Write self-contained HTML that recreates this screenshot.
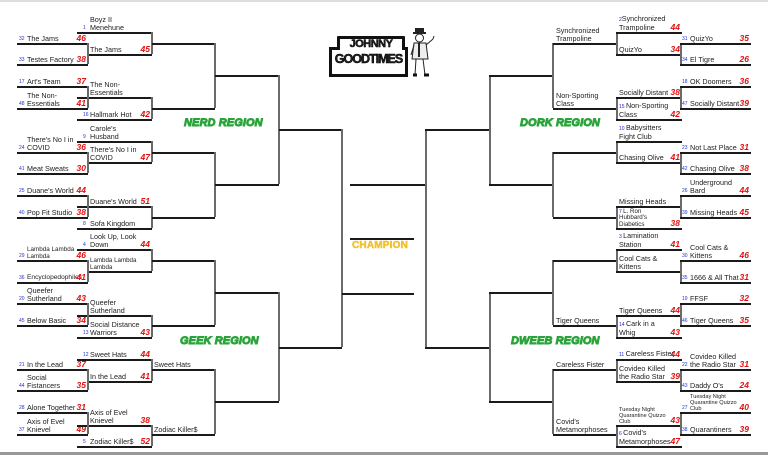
<!DOCTYPE html>
<html><head><meta charset="utf-8"><style>
*{margin:0;padding:0;box-sizing:content-box}
body{width:768px;height:455px;position:relative;overflow:hidden;background:#fff;font-family:"Liberation Sans",Arial,sans-serif;color:#222}
.h{position:absolute;height:0;border-top:2px solid #1a1a1a}
.v{position:absolute;width:0;border-left:2px solid #6a6a6a}
.n{position:absolute;bottom:2px;left:10px;white-space:nowrap;font-size:7.2px;line-height:8px}
.d{position:absolute;bottom:3px;left:2px;font-size:5px;color:#2233cc;line-height:5px}
.c{position:absolute;bottom:2px;right:2px;font-size:8.5px;line-height:9px;color:#e01010;font-weight:bold;font-style:italic}
.k .n{left:13px}.k .d{left:6px}
.r .n{left:3px}
.sm{font-size:5.6px!important;line-height:6px!important}
.rg{position:absolute;font-weight:bold;font-style:italic;font-size:11px;color:#2aa43a;-webkit-text-stroke:0.9px #2aa43a;letter-spacing:0.1px;white-space:nowrap}
.bd{position:absolute;left:0;width:768px;height:2px}
</style></head><body>
<div class="bd" style="top:0;background:#ddd"></div>
<div class="bd" style="top:452px;height:3px;background:#999"></div>

<!-- logo -->
<div style="position:absolute;left:337px;top:36px;width:68px;height:14px;background:#111;border-radius:1px"></div>
<div style="position:absolute;left:329px;top:47px;width:79px;height:30px;background:#111"></div>
<div style="position:absolute;left:332px;top:50px;width:73px;height:24px;background:#fff"></div>
<div style="position:absolute;left:340px;top:39px;width:62px;height:12px;background:#fff"></div>
<div style="position:absolute;left:340px;top:38px;width:62px;text-align:center;font-weight:bold;font-size:11px;letter-spacing:-0.5px;-webkit-text-stroke:0.5px #000">JOHNNY</div>
<div style="position:absolute;left:332px;top:52px;width:73px;text-align:center;font-weight:bold;font-size:12.5px;letter-spacing:-1px;-webkit-text-stroke:0.5px #000">GOODTIMES</div>
<svg style="position:absolute;left:406px;top:27px" width="36" height="53" viewBox="0 0 36 53">
<rect x="9" y="1" width="9" height="5" fill="#222"/><rect x="7" y="5" width="13" height="2" fill="#222"/>
<circle cx="13.5" cy="11" r="4" fill="none" stroke="#222"/>
<path d="M8 16h12l2 16h-16z" fill="#eee" stroke="#222"/><path d="M13 16v14" stroke="#222" stroke-width="2"/>
<path d="M20 18l7-6M27 12l1-3" stroke="#222"/><path d="M8 18l-3 10" stroke="#222"/>
<path d="M10 32l-1 16M17 32l2 16" stroke="#222"/><path d="M7 48h4M18 48h5" stroke="#111" stroke-width="3"/>
</svg>

<!-- LEFT col1 -->
<div class="h" style="left:17px;top:43px;width:71px"><span class="d">32</span><span class="n">The Jams</span><span class="c">46</span></div>
<div class="h" style="left:17px;top:64px;width:71px"><span class="d">33</span><span class="n">Testes Factory</span><span class="c">38</span></div>
<div class="h" style="left:17px;top:86px;width:71px"><span class="d">17</span><span class="n">Art's Team</span><span class="c">37</span></div>
<div class="h" style="left:17px;top:108px;width:71px"><span class="d">48</span><span class="n">The Non-<br>Essentials</span><span class="c">41</span></div>
<div class="h" style="left:17px;top:152px;width:71px"><span class="d">24</span><span class="n">There's No I in<br>COVID</span><span class="c">36</span></div>
<div class="h" style="left:17px;top:173px;width:71px"><span class="d">41</span><span class="n">Meat Sweats</span><span class="c">30</span></div>
<div class="h" style="left:17px;top:195px;width:71px"><span class="d">25</span><span class="n">Duane's World</span><span class="c">44</span></div>
<div class="h" style="left:17px;top:217px;width:71px"><span class="d">40</span><span class="n">Pop Fit Studio</span><span class="c">38</span></div>
<div class="h" style="left:17px;top:260px;width:71px"><span class="d">29</span><span class="n" style="font-size:6.3px;line-height:7px">Lambda Lambda<br>Lambda</span><span class="c">46</span></div>
<div class="h" style="left:17px;top:282px;width:71px"><span class="d">36</span><span class="n" style="font-size:6.6px">Encyclopedophiles</span><span class="c">41</span></div>
<div class="h" style="left:17px;top:303px;width:71px"><span class="d">20</span><span class="n">Queefer<br>Sutherland</span><span class="c">43</span></div>
<div class="h" style="left:17px;top:325px;width:71px"><span class="d">45</span><span class="n">Below Basic</span><span class="c">34</span></div>
<div class="h" style="left:17px;top:369px;width:71px"><span class="d">21</span><span class="n">In the Lead</span><span class="c">37</span></div>
<div class="h" style="left:17px;top:390px;width:71px"><span class="d">44</span><span class="n">Social<br>Fistancers</span><span class="c">35</span></div>
<div class="h" style="left:17px;top:412px;width:71px"><span class="d">28</span><span class="n">Alone Together</span><span class="c">31</span></div>
<div class="h" style="left:17px;top:434px;width:71px"><span class="d">37</span><span class="n">Axis of Evel<br>Knievel</span><span class="c">49</span></div>

<!-- LEFT col2 -->
<div class="h k" style="left:77px;top:32px;width:75px"><span class="d">1</span><span class="n">Boyz II<br>Menehune</span></div>
<div class="h k" style="left:88px;top:54px;width:64px"><span class="n" style="left:2px">The Jams</span><span class="c">45</span></div>
<div class="h k" style="left:77px;top:97px;width:75px"><span class="n">The Non-<br>Essentials</span></div>
<div class="h k" style="left:77px;top:119px;width:75px"><span class="d">16</span><span class="n">Hallmark Hot</span><span class="c">42</span></div>
<div class="h k" style="left:77px;top:141px;width:75px"><span class="d">9</span><span class="n">Carole's<br>Husband</span></div>
<div class="h k" style="left:88px;top:162px;width:64px"><span class="n" style="left:2px">There's No I in<br>COVID</span><span class="c">47</span></div>
<div class="h k" style="left:77px;top:206px;width:75px"><span class="n">Duane's World</span><span class="c">51</span></div>
<div class="h k" style="left:77px;top:228px;width:75px"><span class="d">8</span><span class="n">Sofa Kingdom</span></div>
<div class="h k" style="left:77px;top:249px;width:75px"><span class="d">4</span><span class="n">Look Up, Look<br>Down</span><span class="c">44</span></div>
<div class="h k" style="left:88px;top:271px;width:64px"><span class="n" style="left:2px;font-size:6.2px;line-height:7px">Lambda Lambda<br>Lambda</span></div>
<div class="h k" style="left:77px;top:315px;width:75px"><span class="n">Queefer<br>Sutherland</span></div>
<div class="h k" style="left:77px;top:337px;width:75px"><span class="d">13</span><span class="n">Social Distance<br>Warriors</span><span class="c">43</span></div>
<div class="h k" style="left:77px;top:359px;width:75px"><span class="d">12</span><span class="n">Sweet Hats</span><span class="c">44</span></div>
<div class="h k" style="left:88px;top:381px;width:64px"><span class="n" style="left:2px">In the Lead</span><span class="c">41</span></div>
<div class="h k" style="left:77px;top:425px;width:75px"><span class="n">Axis of Evel<br>Knievel</span><span class="c">38</span></div>
<div class="h k" style="left:77px;top:446px;width:75px"><span class="d">5</span><span class="n">Zodiac Killer$</span><span class="c">52</span></div>

<!-- LEFT verticals col1/col2 -->
<div class="v" style="left:87px;top:43px;height:21px"></div>
<div class="v" style="left:87px;top:86px;height:22px"></div>
<div class="v" style="left:87px;top:152px;height:21px"></div>
<div class="v" style="left:87px;top:195px;height:22px"></div>
<div class="v" style="left:87px;top:260px;height:22px"></div>
<div class="v" style="left:87px;top:303px;height:22px"></div>
<div class="v" style="left:87px;top:369px;height:21px"></div>
<div class="v" style="left:87px;top:412px;height:22px"></div>
<div class="v" style="left:151px;top:32px;height:22px"></div>
<div class="v" style="left:151px;top:97px;height:22px"></div>
<div class="v" style="left:151px;top:141px;height:21px"></div>
<div class="v" style="left:151px;top:206px;height:22px"></div>
<div class="v" style="left:151px;top:249px;height:22px"></div>
<div class="v" style="left:151px;top:315px;height:22px"></div>
<div class="v" style="left:151px;top:359px;height:22px"></div>
<div class="v" style="left:151px;top:425px;height:21px"></div>

<!-- LEFT col3 -->
<div class="h" style="left:152px;top:43px;width:63px"></div>
<div class="h" style="left:152px;top:108px;width:63px"></div>
<div class="h" style="left:152px;top:152px;width:63px"></div>
<div class="h" style="left:152px;top:217px;width:63px"></div>
<div class="h" style="left:152px;top:260px;width:63px"></div>
<div class="h" style="left:152px;top:325px;width:63px"></div>
<div class="h" style="left:152px;top:369px;width:63px"><span class="n" style="left:2px">Sweet Hats</span></div>
<div class="h" style="left:152px;top:434px;width:63px"><span class="n" style="left:2px">Zodiac Killer$</span></div>
<div class="v" style="left:214px;top:43px;height:65px"></div>
<div class="v" style="left:214px;top:152px;height:65px"></div>
<div class="v" style="left:214px;top:260px;height:65px"></div>
<div class="v" style="left:214px;top:369px;height:65px"></div>
<!-- LEFT col4 -->
<div class="h" style="left:215px;top:75px;width:64px"></div>
<div class="h" style="left:215px;top:184px;width:64px"></div>
<div class="h" style="left:215px;top:292px;width:64px"></div>
<div class="h" style="left:215px;top:401px;width:64px"></div>
<div class="v" style="left:278px;top:75px;height:109px"></div>
<div class="v" style="left:278px;top:292px;height:109px"></div>
<div class="h" style="left:279px;top:129px;width:63px"></div>
<div class="h" style="left:279px;top:347px;width:63px"></div>
<div class="v" style="left:341px;top:129px;height:218px"></div>
<div class="h" style="left:342px;top:293px;width:72px"></div>

<!-- CENTER -->
<div class="h" style="left:350px;top:184px;width:76px"></div>
<div class="h" style="left:350px;top:238px;width:64px"></div>
<div style="position:absolute;left:352px;top:240px;font-weight:bold;font-size:10px;color:#f2c12e;-webkit-text-stroke:0.5px #f2c12e;letter-spacing:0.2px">CHAMPION</div>

<!-- RIGHT col4 -->
<div class="v" style="left:425px;top:129px;height:218px"></div>
<div class="h" style="left:425px;top:129px;width:64px"></div>
<div class="h" style="left:425px;top:347px;width:64px"></div>
<div class="v" style="left:489px;top:75px;height:109px"></div>
<div class="v" style="left:489px;top:292px;height:109px"></div>
<div class="h" style="left:489px;top:75px;width:64px"></div>
<div class="h" style="left:489px;top:184px;width:64px"></div>
<div class="h" style="left:489px;top:292px;width:64px"></div>
<div class="h" style="left:489px;top:401px;width:64px"></div>

<!-- RIGHT col3 -->
<div class="v" style="left:552px;top:43px;height:65px"></div>
<div class="v" style="left:552px;top:152px;height:65px"></div>
<div class="v" style="left:552px;top:260px;height:65px"></div>
<div class="v" style="left:552px;top:369px;height:65px"></div>
<div class="h r" style="left:553px;top:43px;width:63px"><span class="n">Synchronized<br>Trampoline</span></div>
<div class="h r" style="left:553px;top:108px;width:63px"><span class="n">Non-Sporting<br>Class</span></div>
<div class="h" style="left:553px;top:152px;width:63px"></div>
<div class="h" style="left:553px;top:217px;width:63px"></div>
<div class="h" style="left:553px;top:260px;width:63px"></div>
<div class="h r" style="left:553px;top:325px;width:63px"><span class="n">Tiger Queens</span></div>
<div class="h r" style="left:553px;top:369px;width:63px"><span class="n">Careless Fister</span></div>
<div class="h r" style="left:553px;top:434px;width:63px"><span class="n">Covid's<br>Metamorphoses</span></div>

<!-- RIGHT col2 -->
<div class="v" style="left:616px;top:32px;height:22px"></div>
<div class="v" style="left:616px;top:97px;height:22px"></div>
<div class="v" style="left:616px;top:141px;height:21px"></div>
<div class="v" style="left:616px;top:206px;height:22px"></div>
<div class="v" style="left:616px;top:249px;height:22px"></div>
<div class="v" style="left:616px;top:315px;height:22px"></div>
<div class="v" style="left:616px;top:359px;height:22px"></div>
<div class="v" style="left:616px;top:425px;height:21px"></div>
<div class="h r" style="left:616px;top:32px;width:66px"><span class="n"><span style="font-size:5px;color:#22c">2</span>Synchronized<br>Trampoline</span><span class="c">44</span></div>
<div class="h r" style="left:616px;top:54px;width:66px"><span class="n">QuizYo</span><span class="c">34</span></div>
<div class="h r" style="left:616px;top:97px;width:66px"><span class="n">Socially Distant</span><span class="c">38</span></div>
<div class="h r" style="left:616px;top:119px;width:66px"><span class="n"><span style="font-size:5px;color:#22c">15 </span>Non-Sporting<br>Class</span><span class="c">42</span></div>
<div class="h r" style="left:616px;top:141px;width:66px"><span class="n"><span style="font-size:5px;color:#22c">10 </span>Babysitters<br>Fight Club</span></div>
<div class="h r" style="left:616px;top:162px;width:66px"><span class="n">Chasing Olive</span><span class="c">41</span></div>
<div class="h r" style="left:616px;top:206px;width:66px"><span class="n">Missing Heads</span></div>
<div class="h r" style="left:616px;top:228px;width:66px"><span class="n" style="line-height:6.5px;font-size:6.2px"><span style="font-size:5px;color:#22c">7 </span>L. Ron<br>Hubbard's<br>Diabetics</span><span class="c">38</span></div>
<div class="h r" style="left:616px;top:249px;width:66px"><span class="n"><span style="font-size:5px;color:#22c">3 </span>Lamination<br>Station</span><span class="c">41</span></div>
<div class="h r" style="left:616px;top:271px;width:66px"><span class="n">Cool Cats &amp;<br>Kittens</span></div>
<div class="h r" style="left:616px;top:315px;width:66px"><span class="n">Tiger Queens</span><span class="c">44</span></div>
<div class="h r" style="left:616px;top:337px;width:66px"><span class="n"><span style="font-size:5px;color:#22c">14 </span>Cark in a<br>Whig</span><span class="c">43</span></div>
<div class="h r" style="left:616px;top:359px;width:66px"><span class="n"><span style="font-size:5px;color:#22c">11 </span>Careless Fister</span><span class="c">44</span></div>
<div class="h r" style="left:616px;top:381px;width:66px"><span class="n">Covideo Killed<br>the Radio Star</span><span class="c">39</span></div>
<div class="h r" style="left:616px;top:425px;width:66px"><span class="n sm">Tuesday Night<br>Quarantine Quizzo<br>Club</span><span class="c">43</span></div>
<div class="h r" style="left:616px;top:446px;width:66px"><span class="n"><span style="font-size:5px;color:#22c">6 </span>Covid's<br>Metamorphoses</span><span class="c">47</span></div>

<!-- RIGHT col1 -->
<div class="v" style="left:680px;top:43px;height:21px"></div>
<div class="v" style="left:680px;top:86px;height:22px"></div>
<div class="v" style="left:680px;top:152px;height:21px"></div>
<div class="v" style="left:680px;top:195px;height:22px"></div>
<div class="v" style="left:680px;top:260px;height:22px"></div>
<div class="v" style="left:680px;top:303px;height:22px"></div>
<div class="v" style="left:680px;top:369px;height:21px"></div>
<div class="v" style="left:680px;top:412px;height:22px"></div>
<div class="h" style="left:680px;top:43px;width:71px"><span class="d">31</span><span class="n">QuizYo</span><span class="c">35</span></div>
<div class="h" style="left:680px;top:64px;width:71px"><span class="d">34</span><span class="n">El Tigre</span><span class="c">26</span></div>
<div class="h" style="left:680px;top:86px;width:71px"><span class="d">18</span><span class="n">OK Doomers</span><span class="c">36</span></div>
<div class="h" style="left:680px;top:108px;width:71px"><span class="d">47</span><span class="n">Socially Distant</span><span class="c">39</span></div>
<div class="h" style="left:680px;top:152px;width:71px"><span class="d">23</span><span class="n">Not Last Place</span><span class="c">31</span></div>
<div class="h" style="left:680px;top:173px;width:71px"><span class="d">42</span><span class="n">Chasing Olive</span><span class="c">38</span></div>
<div class="h" style="left:680px;top:195px;width:71px"><span class="d">26</span><span class="n">Underground<br>Bard</span><span class="c">44</span></div>
<div class="h" style="left:680px;top:217px;width:71px"><span class="d">39</span><span class="n">Missing Heads</span><span class="c">45</span></div>
<div class="h" style="left:680px;top:260px;width:71px"><span class="d">30</span><span class="n">Cool Cats &amp;<br>Kittens</span><span class="c">46</span></div>
<div class="h" style="left:680px;top:282px;width:71px"><span class="d">35</span><span class="n">1666 &amp; All That</span><span class="c">31</span></div>
<div class="h" style="left:680px;top:303px;width:71px"><span class="d">19</span><span class="n">FFSF</span><span class="c">32</span></div>
<div class="h" style="left:680px;top:325px;width:71px"><span class="d">46</span><span class="n">Tiger Queens</span><span class="c">35</span></div>
<div class="h" style="left:680px;top:369px;width:71px"><span class="d">22</span><span class="n">Covideo Killed<br>the Radio Star</span><span class="c">31</span></div>
<div class="h" style="left:680px;top:390px;width:71px"><span class="d">43</span><span class="n">Daddy O's</span><span class="c">24</span></div>
<div class="h" style="left:680px;top:412px;width:71px"><span class="d">27</span><span class="n sm">Tuesday Night<br>Quarantine Quizzo<br>Club</span><span class="c">40</span></div>
<div class="h" style="left:680px;top:434px;width:71px"><span class="d">38</span><span class="n">Quarantiners</span><span class="c">39</span></div>

<!-- region labels -->
<div class="rg" style="left:184px;top:117px">NERD REGION</div>
<div class="rg" style="left:180px;top:335px">GEEK REGION</div>
<div class="rg" style="left:520px;top:117px">DORK REGION</div>
<div class="rg" style="left:511px;top:335px">DWEEB REGION</div>
</body></html>
